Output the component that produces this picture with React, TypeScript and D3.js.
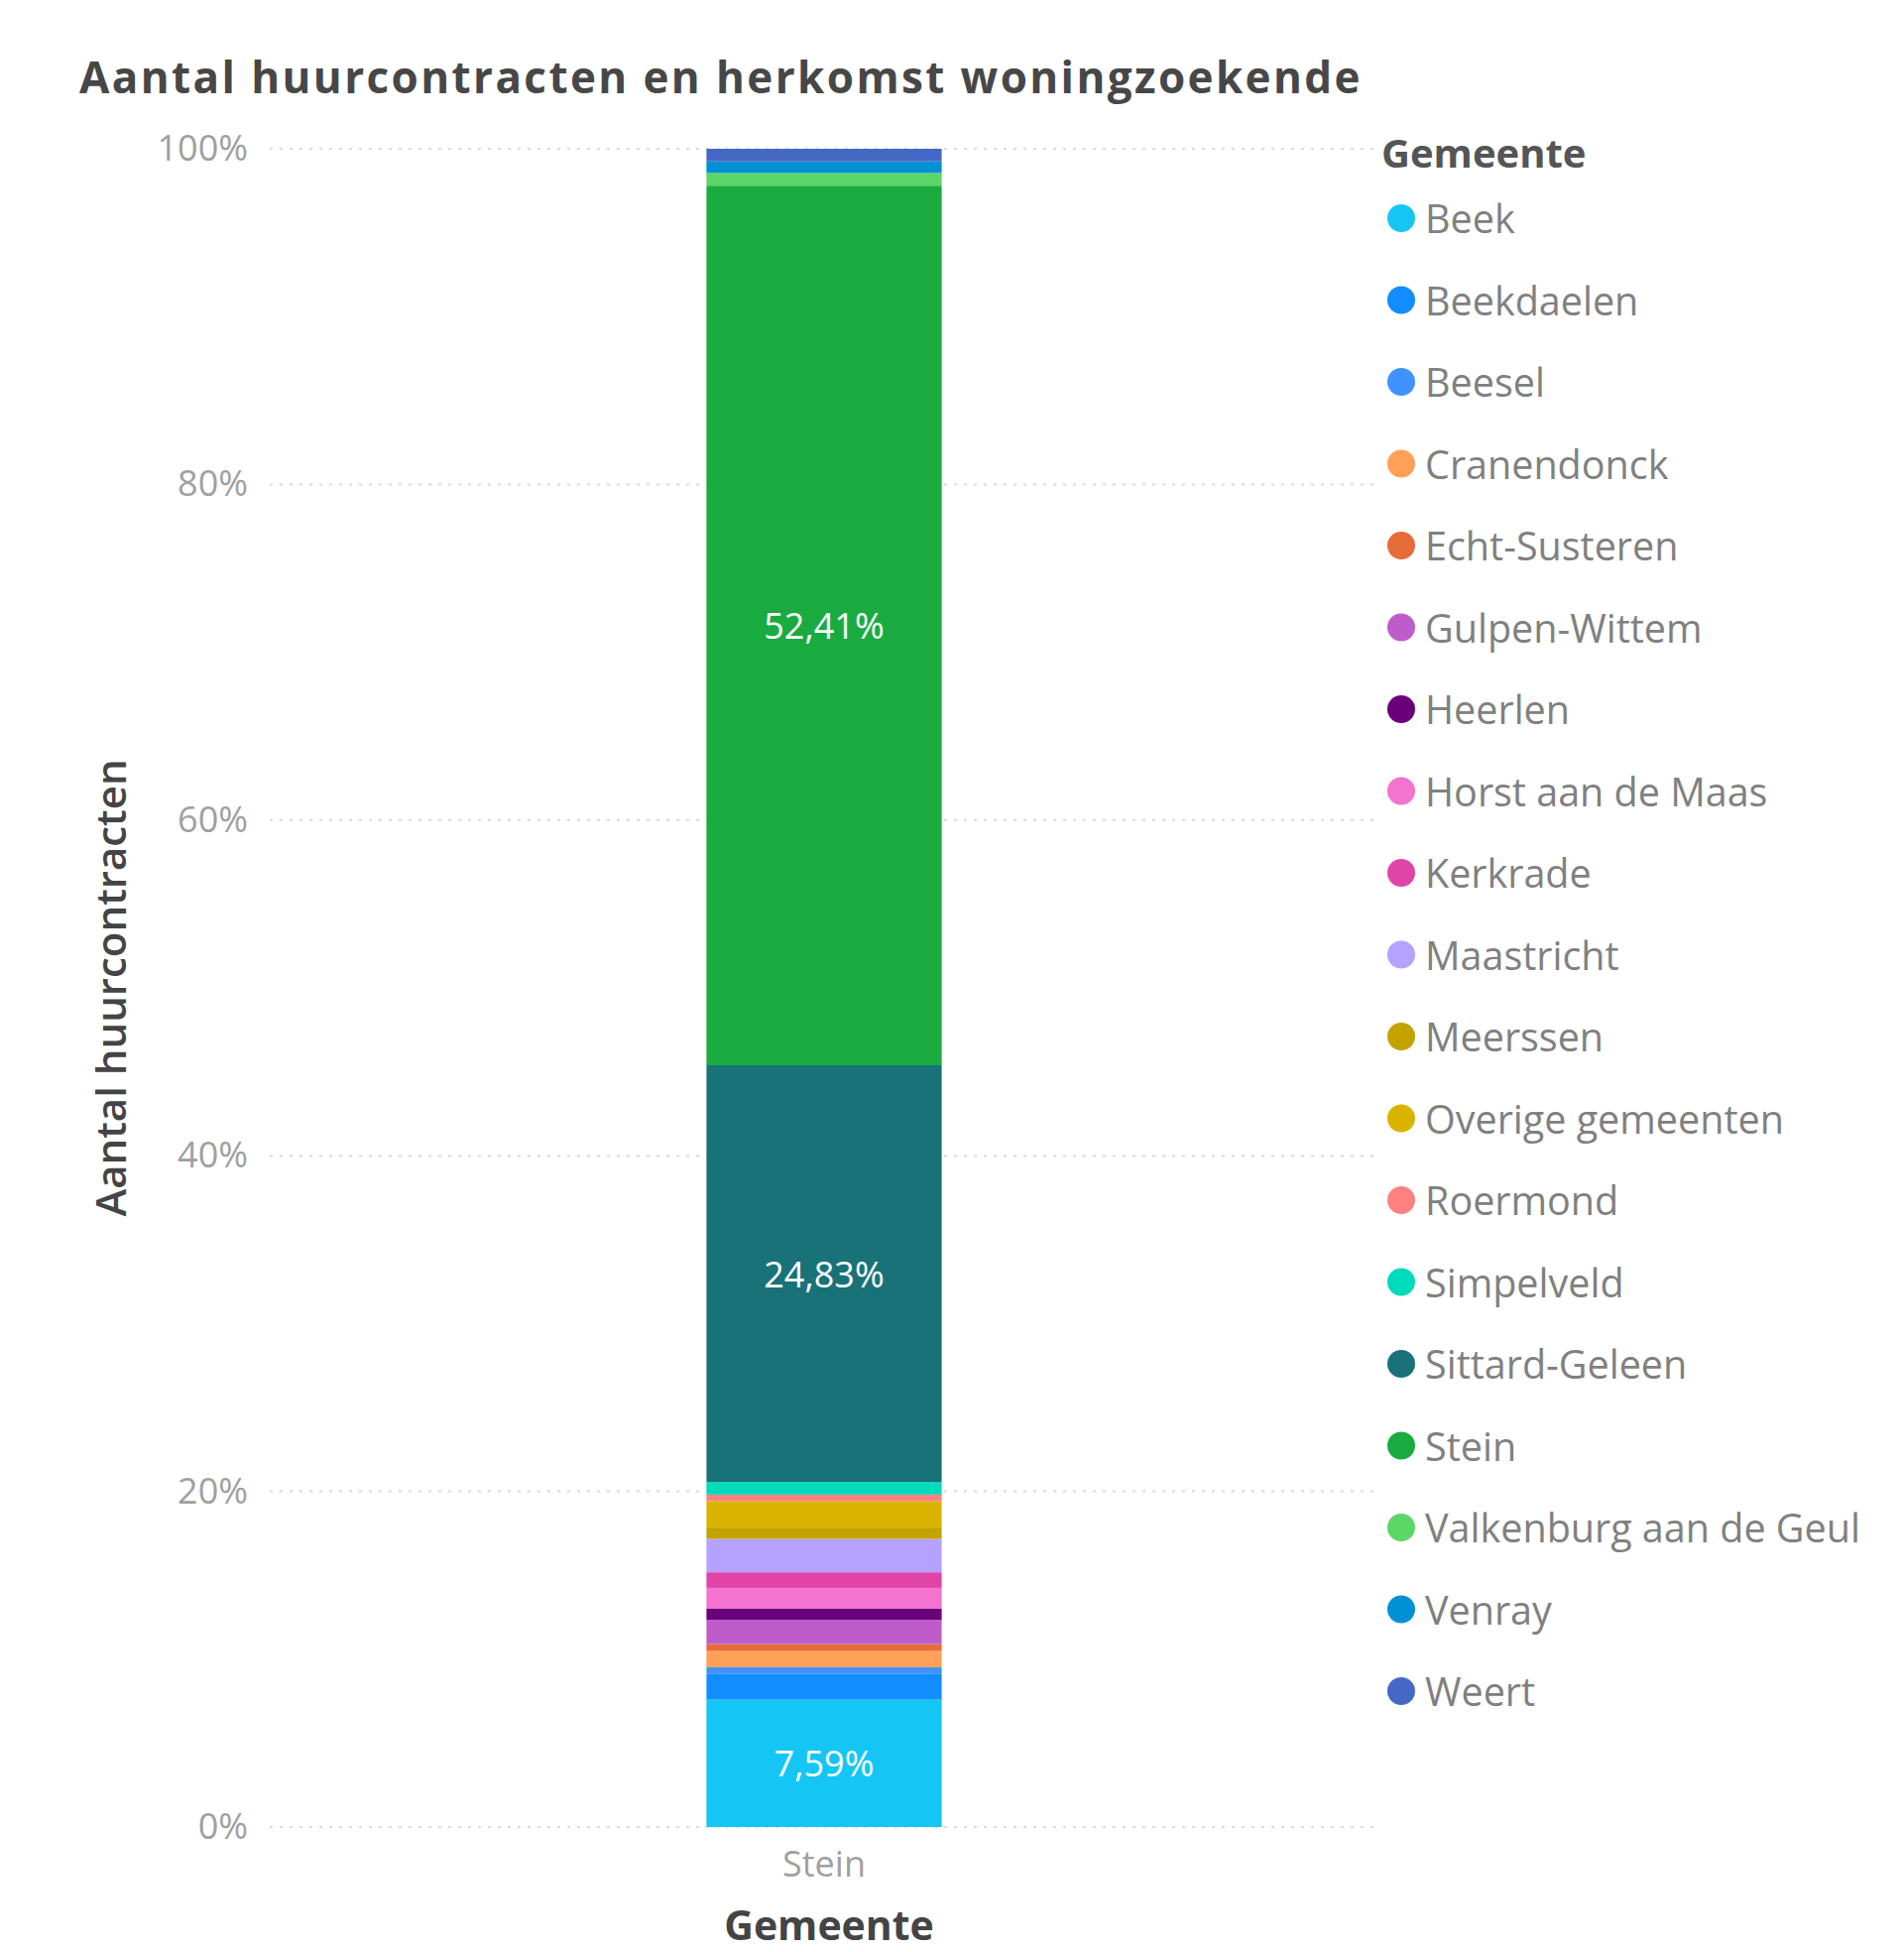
import React, { useRef, useEffect } from 'react';
import * as d3 from 'd3';

// Herkomst woningzoekenden (aandeel in %), gestapeld van onder naar boven
const gemeenten = [
    'Beek', 'Beekdaelen', 'Beesel', 'Cranendonck', 'Echt-Susteren', 'Gulpen-Wittem',
    'Heerlen', 'Horst aan de Maas', 'Kerkrade', 'Maastricht', 'Meerssen',
    'Overige gemeenten', 'Roermond', 'Simpelveld', 'Sittard-Geleen', 'Stein',
    'Valkenburg aan de Geul', 'Venray', 'Weert',
];
const aandelen = [
    7.59, 1.52, 0.41, 0.97, 0.41, 1.44,
    0.69, 1.22, 0.93, 1.99, 0.67,
    1.58, 0.39, 0.75, 24.83, 52.41,
    0.76, 0.69, 0.75,
];
const kleuren = [
    '#15C6F4', '#118DFF', '#4092FF', '#FFA058', '#E66C37', '#BE5DC9',
    '#6B007B', '#F472D0', '#E044A7', '#B5A1FF', '#C4A200',
    '#D9B300', '#FF8080', '#00DBBC', '#197278', '#1AAB40',
    '#5BD667', '#0091D5', '#4668C5',
];
const categorieen = ['Stein'];
const yTicks = [0, 0.2, 0.4, 0.6, 0.8, 1];

const titel = 'Aantal huurcontracten en herkomst woningzoekende';
const FONT = "'Segoe UI', 'Open Sans', sans-serif";

const App: React.FC = () => {
    const svgRef = useRef<SVGSVGElement | null>(null);
    const width = 1920;
    const height = 1968;

    useEffect(() => {
        const svg = d3.select(svgRef.current);
        svg.selectAll('*').remove();

        const plot = { left: 272, right: 1392, top: 150, bottom: 1842 };

        const x = d3.scaleBand<string>()
            .domain(categorieen)
            .range([268, 1394])
            .padding(0.652);

        const y = d3.scaleLinear()
            .domain([0, 1])
            .range([plot.bottom, plot.top]);

        const color = d3.scaleOrdinal<string, string>().domain(gemeenten).range(kleuren);

        // Titel
        svg.append('text')
            .attr('x', 80)
            .attr('y', 94)
            .attr('font-family', FONT)
            .attr('font-weight', 'bold')
            .attr('font-size', 44)
            .attr('letter-spacing', 2.4)
            .attr('fill', '#474747')
            .text(titel);

        // Rasterlijnen
        svg.append('g')
            .selectAll('line')
            .data(yTicks)
            .enter()
            .append('line')
            .attr('x1', plot.left)
            .attr('x2', plot.right)
            .attr('y1', d => y(d))
            .attr('y2', d => y(d))
            .attr('stroke', '#dadada')
            .attr('stroke-width', 2)
            .attr('stroke-dasharray', '3 7');

        // Y-as
        const yAxis = d3.axisLeft(y).tickValues(yTicks).tickSize(0).tickPadding(0).tickFormat(d3.format('.0%'));
        const yg = svg.append('g')
            .attr('transform', `translate(${plot.left - 22},0)`)
            .call(yAxis);
        yg.select('.domain').remove();
        yg.selectAll('text')
            .attr('font-family', FONT)
            .attr('font-size', 36)
            .attr('fill', '#a0a0a0');

        svg.append('text')
            .attr('transform', `translate(110,${(plot.top + plot.bottom) / 2}) rotate(-90)`)
            .attr('text-anchor', 'middle')
            .attr('dominant-baseline', 'central')
            .attr('font-family', FONT)
            .attr('font-weight', 600)
            .attr('font-size', 42)
            .attr('fill', '#444')
            .text('Aantal huurcontracten');

        // Gestapelde 100%-kolom
        const row: { [key: string]: any } = { gemeente: 'Stein' };
        gemeenten.forEach((g, i) => { row[g] = aandelen[i]; });
        const series = d3.stack<any>().keys(gemeenten).offset(d3.stackOffsetExpand)([row]);

        const nl = d3.formatLocale({ decimal: ',', thousands: '.', grouping: [3], currency: ['€', ''] });
        const pct = nl.format('.2%');

        series.forEach(s => {
            const d = s[0];
            svg.append('rect')
                .attr('x', x(d.data.gemeente) as number)
                .attr('width', x.bandwidth())
                .attr('y', y(d[1]))
                .attr('height', y(d[0]) - y(d[1]))
                .attr('fill', color(s.key));
            if (d[1] - d[0] > 0.05) {
                svg.append('text')
                    .attr('x', (x(d.data.gemeente) as number) + x.bandwidth() / 2)
                    .attr('y', (y(d[0]) + y(d[1])) / 2)
                    .attr('text-anchor', 'middle')
                    .attr('dominant-baseline', 'central')
                    .attr('font-family', FONT)
                    .attr('font-size', 36)
                    .attr('fill', '#fff')
                    .text(pct(d[1] - d[0]));
            }
        });

        // X-as
        const xAxis = d3.axisBottom(x).tickSize(0).tickPadding(24);
        const xg = svg.append('g')
            .attr('transform', `translate(0,${plot.bottom})`)
            .call(xAxis);
        xg.select('.domain').remove();
        xg.selectAll('text')
            .attr('font-family', FONT)
            .attr('font-size', 36)
            .attr('fill', '#a0a0a0');

        svg.append('text')
            .attr('x', 836)
            .attr('y', 1940)
            .attr('text-anchor', 'middle')
            .attr('dominant-baseline', 'central')
            .attr('font-family', FONT)
            .attr('font-weight', 'bold')
            .attr('font-size', 41)
            .attr('fill', '#444')
            .text('Gemeente');

        // Legenda
        const legend = svg.append('g').attr('transform', 'translate(1393,0)');
        legend.append('text')
            .attr('x', 0)
            .attr('y', 153)
            .attr('dominant-baseline', 'central')
            .attr('font-family', FONT)
            .attr('font-weight', 'bold')
            .attr('font-size', 40)
            .attr('fill', '#555')
            .text('Gemeente');

        const ly = d3.scalePoint<string>().domain(gemeenten).range([220, 1705]);
        const item = legend.selectAll('g.item')
            .data(gemeenten)
            .enter()
            .append('g')
            .attr('class', 'item')
            .attr('transform', d => `translate(0,${ly(d)})`);
        item.append('circle')
            .attr('cx', 20)
            .attr('cy', 0)
            .attr('r', 14)
            .attr('fill', d => color(d));
        item.append('text')
            .attr('x', 44)
            .attr('y', 0)
            .attr('dominant-baseline', 'central')
            .attr('font-family', FONT)
            .attr('font-size', 39.5)
            .attr('fill', '#808080')
            .text(d => d);
    }, []);

    return (
        <div style={{ position: 'absolute', left: 0, top: 0, background: '#fff' }}>
            <svg ref={svgRef} width={width} height={height} style={{ display: 'block' }}></svg>
        </div>
    );
};

export default App;
